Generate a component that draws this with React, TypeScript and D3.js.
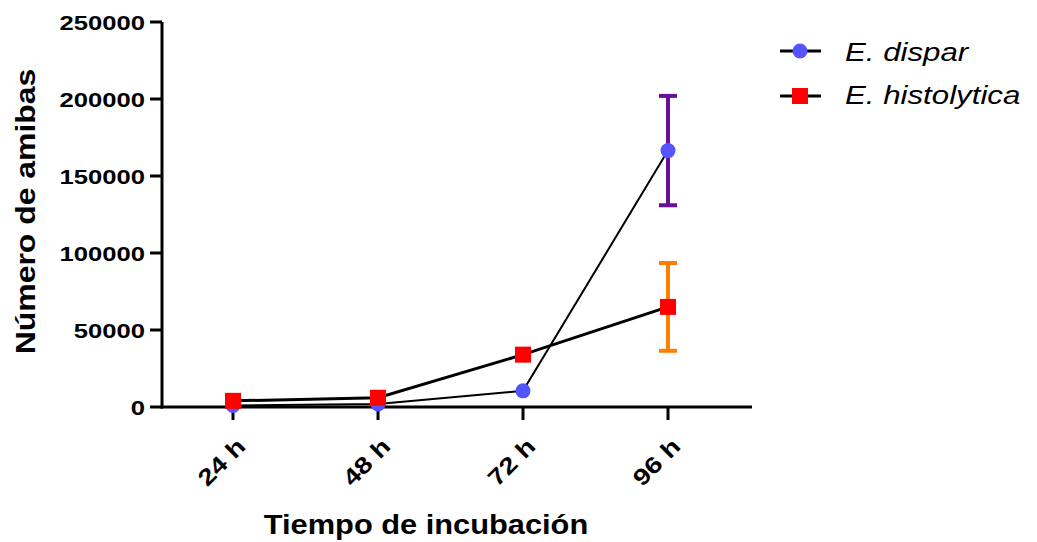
import React from "react";
import * as d3 from "d3";

const categories = ["24 h", "48 h", "72 h", "96 h"];
const disparMean = [1000, 2000, 10500, 166500];
const disparErr = [0, 0, 0, 35500];
const histoMean = [4000, 6000, 34000, 65000];
const histoErr = [0, 0, 0, 28500];
const yTicks = [0, 50000, 100000, 150000, 200000, 250000];
const seriesNames = ["E. dispar", "E. histolytica"];

const W = 1037, H = 542;
const FONT = "'Liberation Sans', Arial, sans-serif";

export default function App() {
  const x = d3.scalePoint<string>().domain(categories).range([233, 668]);
  const y = d3.scaleLinear().domain([0, 250000]).range([407, 22]);
  const axisLeft = 162, axisRight = 752;
  const line = d3.line<number>().x((_, i) => x(categories[i])!).y((v) => y(v));

  return (
    <svg width={W} height={H} style={{ position: "absolute", left: 0, top: 0, background: "#fff" }} fontFamily={FONT}>
      {/* axes */}
      <line x1={axisLeft} x2={axisLeft} y1={y(250000)} y2={y(0) + 1.5} stroke="#000" strokeWidth={3} />
      <line x1={axisLeft - 1.5} x2={axisRight} y1={y(0)} y2={y(0)} stroke="#000" strokeWidth={3} />
      {yTicks.map((t) => (
        <g key={t}>
          <line x1={axisLeft - 12} x2={axisLeft} y1={y(t)} y2={y(t)} stroke="#000" strokeWidth={3} />
          <text transform={`translate(${axisLeft - 17},${y(t)}) scale(1.22,1)`} dy="0.36em" textAnchor="end" fontSize={21} fontWeight="bold">{t}</text>
        </g>
      ))}
      {categories.map((c) => (
        <g key={c}>
          <line x1={x(c)} x2={x(c)} y1={y(0)} y2={y(0) + 13} stroke="#000" strokeWidth={3} />
          <text transform={`translate(${x(c)! + 8},${y(0) + 35}) rotate(-45) scale(1.22,1)`} textAnchor="end" dy="0.36em" fontSize={23} fontWeight="bold">{c}</text>
        </g>
      ))}
      <text transform={`translate(25,${y(125000) - 3}) rotate(-90) scale(1.14,1)`} dy="0.36em" textAnchor="middle" fontSize={28} fontWeight="bold">Número de amibas</text>
      <text transform={`translate(426,534) scale(1.1,1)`} textAnchor="middle" fontSize={28} fontWeight="bold">Tiempo de incubación</text>

      {/* lines */}
      <path d={line(histoMean)!} fill="none" stroke="#000" strokeWidth={3} />
      <path d={line(disparMean)!} fill="none" stroke="#000" strokeWidth={2} />

      {/* error bars */}
      {disparMean.map((m, i) => disparErr[i] > 0 && (
        <g key={"de" + i} stroke="#6b0f9a" strokeWidth={4}>
          <line x1={x(categories[i])} x2={x(categories[i])} y1={y(m + disparErr[i])} y2={y(m - disparErr[i])} />
          <line x1={x(categories[i])! - 9} x2={x(categories[i])! + 9} y1={y(m + disparErr[i])} y2={y(m + disparErr[i])} />
          <line x1={x(categories[i])! - 9} x2={x(categories[i])! + 9} y1={y(m - disparErr[i])} y2={y(m - disparErr[i])} />
        </g>
      ))}
      {histoMean.map((m, i) => histoErr[i] > 0 && (
        <g key={"he" + i} stroke="#ff8000" strokeWidth={4}>
          <line x1={x(categories[i])} x2={x(categories[i])} y1={y(m + histoErr[i])} y2={y(m - histoErr[i])} />
          <line x1={x(categories[i])! - 9} x2={x(categories[i])! + 9} y1={y(m + histoErr[i])} y2={y(m + histoErr[i])} />
          <line x1={x(categories[i])! - 9} x2={x(categories[i])! + 9} y1={y(m - histoErr[i])} y2={y(m - histoErr[i])} />
        </g>
      ))}

      {/* markers */}
      {disparMean.map((m, i) => (
        <circle key={"dc" + i} cx={x(categories[i])} cy={y(m)} r={7.5} fill="#5555ff" />
      ))}
      {histoMean.map((m, i) => (
        <rect key={"hr" + i} x={x(categories[i])! - 8} y={y(m) - 8} width={16} height={16} fill="#ff0000" />
      ))}

      {/* legend */}
      <g>
        <line x1={780} x2={821} y1={51} y2={51} stroke="#000" strokeWidth={3} />
        <circle cx={800} cy={51} r={7.5} fill="#5555ff" />
        <text transform="translate(845,61) scale(1.25,1)" fontSize={25} fontStyle="italic">{seriesNames[0]}</text>
        <line x1={780} x2={821} y1={96} y2={96} stroke="#000" strokeWidth={3} />
        <rect x={792} y={88} width={16} height={16} fill="#ff0000" />
        <text transform="translate(845,104) scale(1.25,1)" fontSize={25} fontStyle="italic">{seriesNames[1]}</text>
      </g>
    </svg>
  );
}
